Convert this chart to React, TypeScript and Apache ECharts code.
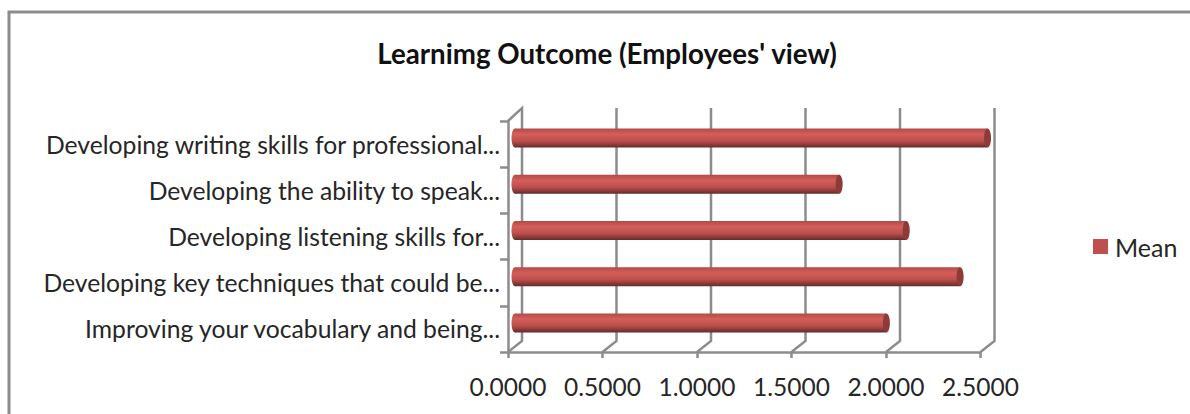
import React, { useEffect, useRef } from "react";
import * as echarts from "echarts";

const categories = [
  "Improving your vocabulary and being...",
  "Developing key techniques that could be...",
  "Developing listening skills for...",
  "Developing the ability to speak...",
  "Developing writing skills for professional...",
];
const meanValues = [1.965, 2.355, 2.07, 1.715, 2.5];
const axisTicks = [0, 0.5, 1, 1.5, 2, 2.5];
const titleText = "Learnimg Outcome (Employees' view)";
const seriesName = "Mean";

const FONT = "Lato, 'Open Sans', sans-serif";
const GRAY = "#8c8c8c";
const TEXT = "#262626";
const DEPTH_X = 14;
const DEPTH_Y = 12;
const BAR_H = 19;

export default function App() {
  const ref = useRef<HTMLDivElement>(null);
  useEffect(() => {
    const chart = echarts.init(ref.current!, undefined, { renderer: "svg" });
    const barFill = new echarts.graphic.LinearGradient(0, 0, 0, 1, [
      { offset: 0, color: "#b04b48" },
      { offset: 0.3, color: "#d55e5a" },
      { offset: 0.65, color: "#bd4e4b" },
      { offset: 0.85, color: "#8a3b39" },
      { offset: 1, color: "#5e2c2b" },
    ]);
    chart.setOption({
      animation: false,
      backgroundColor: "#ffffff",
      title: {
        text: titleText,
        left: 602,
        top: 34,
        textAlign: "center",
        textStyle: { fontFamily: FONT, fontSize: 27.7, fontWeight: "bold", color: "#111111" },
      },
      legend: {
        data: [seriesName],
        left: 1088,
        top: 229,
        icon: "rect",
        itemWidth: 15,
        itemHeight: 15,
        itemGap: 6,
        textStyle: { fontFamily: FONT, fontSize: 25, color: TEXT, padding: [0, 0, 0, 2] },
      },
      graphic: [
        {
          type: "polyline",
          shape: { points: [[9, 414], [9, 12], [1190, 12]] },
          style: { stroke: GRAY, lineWidth: 3, fill: "none" },
        },
      ],
      grid: { left: 508, top: 121, width: 472.5, height: 231 },
      xAxis: {
        type: "value",
        min: 0,
        max: 2.5,
        interval: 0.5,
        splitLine: { show: false },
        axisLine: { show: true, lineStyle: { color: GRAY, width: 2.5 } },
        axisTick: { show: true, length: 6, lineStyle: { color: GRAY, width: 2.5 } },
        axisLabel: {
          margin: 22,
          fontFamily: FONT,
          fontSize: 24.5,
          color: TEXT,
          formatter: (v: number) => v.toFixed(4),
        },
      },
      yAxis: {
        type: "category",
        data: categories,
        axisLine: { show: true, lineStyle: { color: GRAY, width: 2.5 } },
        axisTick: { show: true, length: 8, lineStyle: { color: GRAY, width: 2.5 } },
        axisLabel: { margin: 8, fontFamily: FONT, fontSize: 24.7, color: TEXT },
      },
      series: [
        {
          type: "custom",
          name: "walls",
          silent: true,
          z: 1,
          data: axisTicks,
          encode: { x: 0 },
          renderItem: (params: any, api: any) => {
            const v = api.value(0);
            const cs = params.coordSys;
            const x = api.coord([v, 0])[0];
            const bottom = cs.y + cs.height;
            const points: number[][] = [
              [x, bottom],
              [x + DEPTH_X, bottom - DEPTH_Y + 1],
              [x + DEPTH_X, cs.y - DEPTH_Y - 1],
            ];
            if (v === 0) points.push([x, cs.y]);
            return {
              type: "polyline",
              shape: { points },
              style: { stroke: GRAY, lineWidth: 2.5, fill: "none" },
            };
          },
        },
        {
          type: "custom",
          name: seriesName,
          z: 3,
          itemStyle: { color: "#c0504d" },
          data: meanValues.map((v, i) => [v, i]),
          encode: { x: 0, y: 1 },
          renderItem: (_params: any, api: any) => {
            const end = api.coord([api.value(0), api.value(1)]);
            const start = api.coord([0, api.value(1)]);
            const cy = end[1] - DEPTH_Y / 2;
            const x0 = start[0] + DEPTH_X / 2;
            const x1 = end[0] + DEPTH_X / 2;
            const rx = 3.5;
            const ry = BAR_H / 2;
            return {
              type: "group",
              children: [
                {
                  type: "ellipse",
                  shape: { cx: x0, cy, rx, ry },
                  style: { fill: barFill },
                },
                {
                  type: "rect",
                  shape: { x: x0, y: cy - ry, width: x1 - x0, height: BAR_H },
                  style: { fill: barFill },
                },
                {
                  type: "ellipse",
                  shape: { cx: x1, cy, rx, ry },
                  style: { fill: "#8c3b39" },
                },
              ],
            };
          },
        },
      ],
    });
    return () => chart.dispose();
  }, []);
  return (
    <div
      ref={ref}
      style={{ position: "fixed", left: 0, top: 0, width: 1190, height: 414 }}
    />
  );
}
